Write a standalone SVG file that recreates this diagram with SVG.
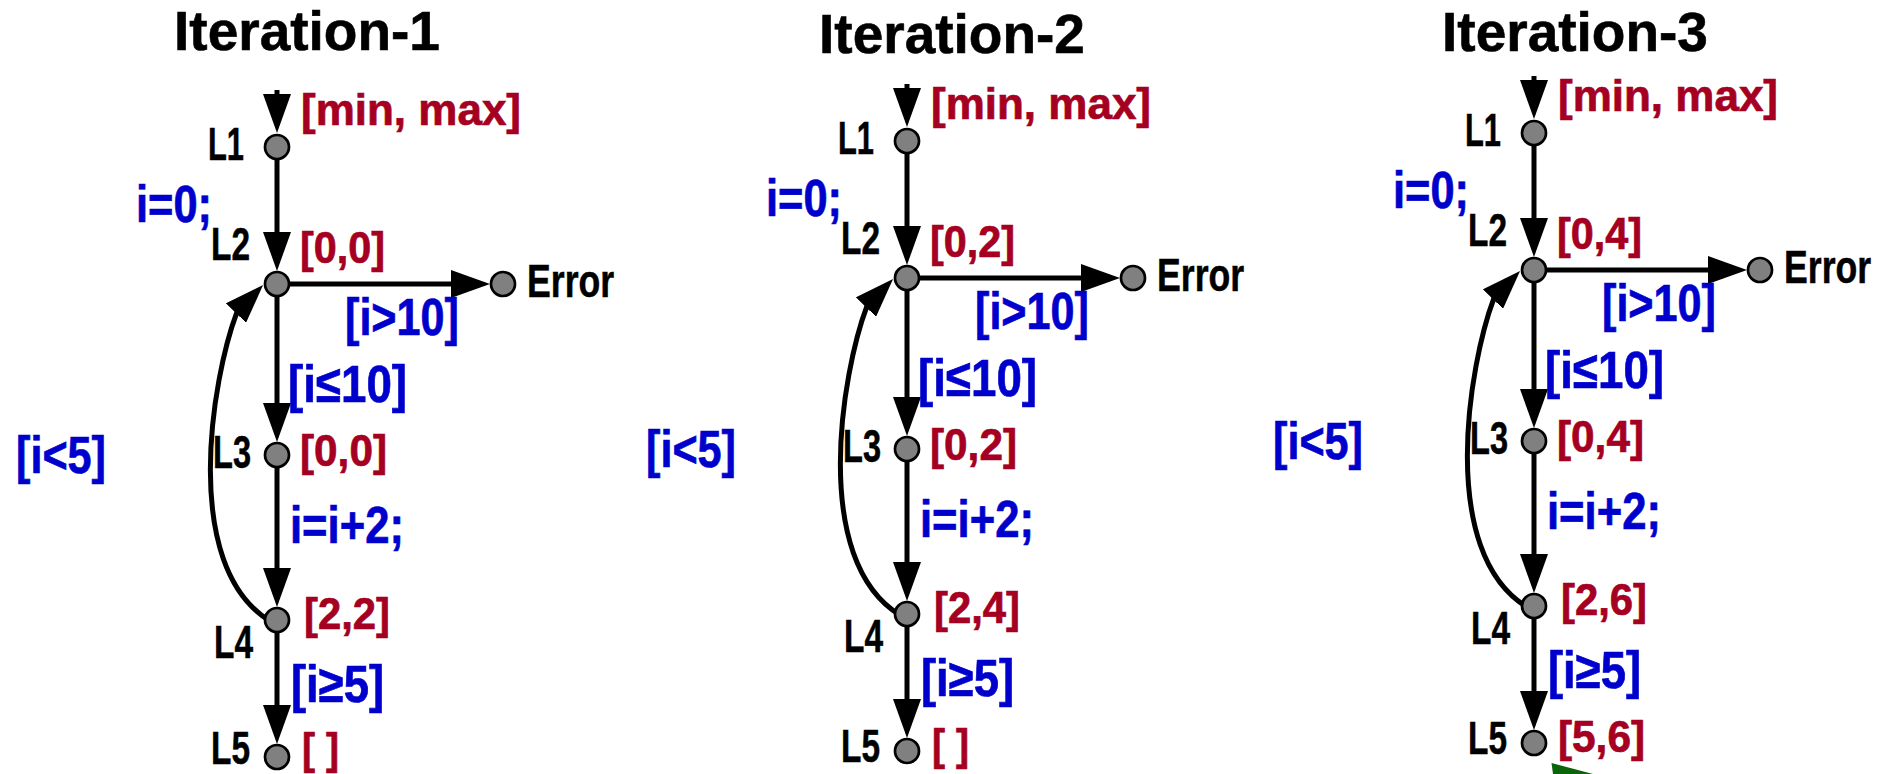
<svg xmlns="http://www.w3.org/2000/svg" width="1878" height="774" viewBox="0 0 1878 774">
  <defs>
    <style>
      text { font-family: "Liberation Sans", Arial, Helvetica, sans-serif; font-weight: bold; }
      .title { font-size: 55px; fill: #000; text-anchor: middle; stroke: #000; stroke-width: 0.6; }
      .red { font-size: 45px; fill: #A50021; stroke: #A50021; stroke-width: 0.7; }
      .blue { font-size: 52px; fill: #0000CC; stroke: #0000CC; stroke-width: 0.7; }
      .lab { font-size: 46px; fill: #000; stroke: #000; stroke-width: 0.5; }
      .edge { fill: none; stroke: #000; stroke-width: 5; }
      .node { fill: #808080; stroke: #000; stroke-width: 2.7; }
    </style>
    <marker id="ah" markerUnits="userSpaceOnUse" markerWidth="39" markerHeight="28"
            viewBox="0 0 39 28" refX="31" refY="14" orient="auto">
      <path d="M0 0 L39 14 L0 28 Z" fill="#000"/>
    </marker>
  </defs>
  <rect width="1878" height="774" fill="#fff"/>

  <!-- headings -->
  <g id="titles">
    <text class="title" x="307" y="50">Iteration-1</text>
    <text class="title" x="952" y="53">Iteration-2</text>
    <text class="title" x="1575" y="51">Iteration-3</text>
  </g>

  <!-- ========== Iteration 1 ========== -->
  <g id="it1">
    <g id="it1-edges" class="edge" marker-end="url(#ah)">
      <path d="M277 90 V125"/>
      <path d="M277 160 V263"/>
      <path d="M289 284 H482"/>
      <path d="M277 296 V434"/>
      <path d="M277 467 V599"/>
      <path d="M277 632 V736"/>
      <path d="M270 621 C180 566 212 378 237 312 L257.5 290.8"/>
    </g>
    <g id="it1-guards">
      <text class="blue" x="136" y="222" textLength="76" lengthAdjust="spacingAndGlyphs">i=0;</text>
      <text class="blue" x="345" y="335" textLength="114" lengthAdjust="spacingAndGlyphs">[i&gt;10]</text>
      <text class="blue" x="288" y="402" textLength="119" lengthAdjust="spacingAndGlyphs">[i≤10]</text>
      <text class="blue" x="16" y="473" textLength="90" lengthAdjust="spacingAndGlyphs">[i&lt;5]</text>
      <text class="blue" x="290" y="543" textLength="114" lengthAdjust="spacingAndGlyphs">i=i+2;</text>
      <text class="blue" x="291" y="702" textLength="93" lengthAdjust="spacingAndGlyphs">[i≥5]</text>
    </g>
    <g id="it1-L1">
      <circle class="node" cx="277" cy="147" r="12"/>
      <text class="lab" x="208" y="160" textLength="36" lengthAdjust="spacingAndGlyphs">L1</text>
      <text class="red" x="301" y="125" textLength="220" lengthAdjust="spacingAndGlyphs">[min, max]</text>
    </g>
    <g id="it1-L2">
      <circle class="node" cx="277" cy="284" r="12"/>
      <text class="lab" x="211" y="260" textLength="39" lengthAdjust="spacingAndGlyphs">L2</text>
      <text class="red" x="300" y="263" textLength="85" lengthAdjust="spacingAndGlyphs">[0,0]</text>
    </g>
    <g id="it1-L3">
      <circle class="node" cx="277" cy="455" r="12"/>
      <text class="lab" x="213" y="468" textLength="38" lengthAdjust="spacingAndGlyphs">L3</text>
      <text class="red" x="300" y="466" textLength="87" lengthAdjust="spacingAndGlyphs">[0,0]</text>
    </g>
    <g id="it1-L4">
      <circle class="node" cx="277" cy="620" r="12"/>
      <text class="lab" x="214" y="658" textLength="39" lengthAdjust="spacingAndGlyphs">L4</text>
      <text class="red" x="304" y="629" textLength="86" lengthAdjust="spacingAndGlyphs">[2,2]</text>
    </g>
    <g id="it1-L5">
      <circle class="node" cx="277" cy="757" r="12"/>
      <text class="lab" x="211" y="764" textLength="39" lengthAdjust="spacingAndGlyphs">L5</text>
      <text class="red" x="302" y="764" textLength="37" lengthAdjust="spacingAndGlyphs">[ ]</text>
    </g>
    <g id="it1-Error">
      <circle class="node" cx="503" cy="284" r="12"/>
      <text class="lab" transform="translate(527 297) scale(0.775 1)">Error</text>
    </g>
  </g>

  <!-- ========== Iteration 2 ========== -->
  <g id="it2" transform="translate(630,-6)">
    <g id="it2-edges" class="edge" marker-end="url(#ah)">
      <path d="M277 90 V125"/>
      <path d="M277 160 V263"/>
      <path d="M289 284 H482"/>
      <path d="M277 296 V434"/>
      <path d="M277 467 V599"/>
      <path d="M277 632 V736"/>
      <path d="M270 621 C180 566 212 378 237 312 L257.5 290.8"/>
    </g>
    <g id="it2-guards">
      <text class="blue" x="136" y="222" textLength="76" lengthAdjust="spacingAndGlyphs">i=0;</text>
      <text class="blue" x="345" y="335" textLength="114" lengthAdjust="spacingAndGlyphs">[i&gt;10]</text>
      <text class="blue" x="288" y="402" textLength="119" lengthAdjust="spacingAndGlyphs">[i≤10]</text>
      <text class="blue" x="16" y="473" textLength="90" lengthAdjust="spacingAndGlyphs">[i&lt;5]</text>
      <text class="blue" x="290" y="543" textLength="114" lengthAdjust="spacingAndGlyphs">i=i+2;</text>
      <text class="blue" x="291" y="702" textLength="93" lengthAdjust="spacingAndGlyphs">[i≥5]</text>
    </g>
    <g id="it2-L1">
      <circle class="node" cx="277" cy="147" r="12"/>
      <text class="lab" x="208" y="160" textLength="36" lengthAdjust="spacingAndGlyphs">L1</text>
      <text class="red" x="301" y="125" textLength="220" lengthAdjust="spacingAndGlyphs">[min, max]</text>
    </g>
    <g id="it2-L2">
      <circle class="node" cx="277" cy="284" r="12"/>
      <text class="lab" x="211" y="260" textLength="39" lengthAdjust="spacingAndGlyphs">L2</text>
      <text class="red" x="300" y="263" textLength="85" lengthAdjust="spacingAndGlyphs">[0,2]</text>
    </g>
    <g id="it2-L3">
      <circle class="node" cx="277" cy="455" r="12"/>
      <text class="lab" x="213" y="468" textLength="38" lengthAdjust="spacingAndGlyphs">L3</text>
      <text class="red" x="300" y="466" textLength="87" lengthAdjust="spacingAndGlyphs">[0,2]</text>
    </g>
    <g id="it2-L4">
      <circle class="node" cx="277" cy="620" r="12"/>
      <text class="lab" x="214" y="658" textLength="39" lengthAdjust="spacingAndGlyphs">L4</text>
      <text class="red" x="304" y="629" textLength="86" lengthAdjust="spacingAndGlyphs">[2,4]</text>
    </g>
    <g id="it2-L5">
      <circle class="node" cx="277" cy="757" r="12"/>
      <text class="lab" x="211" y="768" textLength="39" lengthAdjust="spacingAndGlyphs">L5</text>
      <text class="red" x="302" y="766" textLength="37" lengthAdjust="spacingAndGlyphs">[ ]</text>
    </g>
    <g id="it2-Error">
      <circle class="node" cx="503" cy="284" r="12"/>
      <text class="lab" transform="translate(527 297) scale(0.775 1)">Error</text>
    </g>
  </g>

  <!-- ========== Iteration 3 ========== -->
  <g id="it3" transform="translate(1257,-14)">
    <g id="it3-edges" class="edge" marker-end="url(#ah)">
      <path d="M277 90 V125"/>
      <path d="M277 160 V263"/>
      <path d="M289 284 H482"/>
      <path d="M277 296 V434"/>
      <path d="M277 467 V599"/>
      <path d="M277 632 V736"/>
      <path d="M270 621 C180 566 212 378 237 312 L257.5 290.8"/>
    </g>
    <g id="it3-guards">
      <text class="blue" x="136" y="222" textLength="76" lengthAdjust="spacingAndGlyphs">i=0;</text>
      <text class="blue" x="345" y="335" textLength="114" lengthAdjust="spacingAndGlyphs">[i&gt;10]</text>
      <text class="blue" x="288" y="402" textLength="119" lengthAdjust="spacingAndGlyphs">[i≤10]</text>
      <text class="blue" x="16" y="473" textLength="90" lengthAdjust="spacingAndGlyphs">[i&lt;5]</text>
      <text class="blue" x="290" y="543" textLength="114" lengthAdjust="spacingAndGlyphs">i=i+2;</text>
      <text class="blue" x="291" y="702" textLength="93" lengthAdjust="spacingAndGlyphs">[i≥5]</text>
    </g>
    <g id="it3-L1">
      <circle class="node" cx="277" cy="147" r="12"/>
      <text class="lab" x="208" y="160" textLength="36" lengthAdjust="spacingAndGlyphs">L1</text>
      <text class="red" x="301" y="125" textLength="220" lengthAdjust="spacingAndGlyphs">[min, max]</text>
    </g>
    <g id="it3-L2">
      <circle class="node" cx="277" cy="284" r="12"/>
      <text class="lab" x="211" y="260" textLength="39" lengthAdjust="spacingAndGlyphs">L2</text>
      <text class="red" x="300" y="263" textLength="85" lengthAdjust="spacingAndGlyphs">[0,4]</text>
    </g>
    <g id="it3-L3">
      <circle class="node" cx="277" cy="455" r="12"/>
      <text class="lab" x="213" y="468" textLength="38" lengthAdjust="spacingAndGlyphs">L3</text>
      <text class="red" x="300" y="466" textLength="87" lengthAdjust="spacingAndGlyphs">[0,4]</text>
    </g>
    <g id="it3-L4">
      <circle class="node" cx="277" cy="620" r="12"/>
      <text class="lab" x="214" y="658" textLength="39" lengthAdjust="spacingAndGlyphs">L4</text>
      <text class="red" x="304" y="629" textLength="86" lengthAdjust="spacingAndGlyphs">[2,6]</text>
    </g>
    <g id="it3-L5">
      <circle class="node" cx="277" cy="757" r="12"/>
      <text class="lab" x="211" y="768" textLength="39" lengthAdjust="spacingAndGlyphs">L5</text>
      <text class="red" x="301" y="766" textLength="87" lengthAdjust="spacingAndGlyphs">[5,6]</text>
    </g>
    <g id="it3-Error">
      <circle class="node" cx="503" cy="284" r="12"/>
      <text class="lab" transform="translate(527 297) scale(0.775 1)">Error</text>
    </g>
  </g>

  <!-- green pointer entering from below, clipped by the lower edge -->
  <polygon id="green-pointer" points="1551.5,763 1593,774 1553,774" fill="#0A640A"/>
</svg>
